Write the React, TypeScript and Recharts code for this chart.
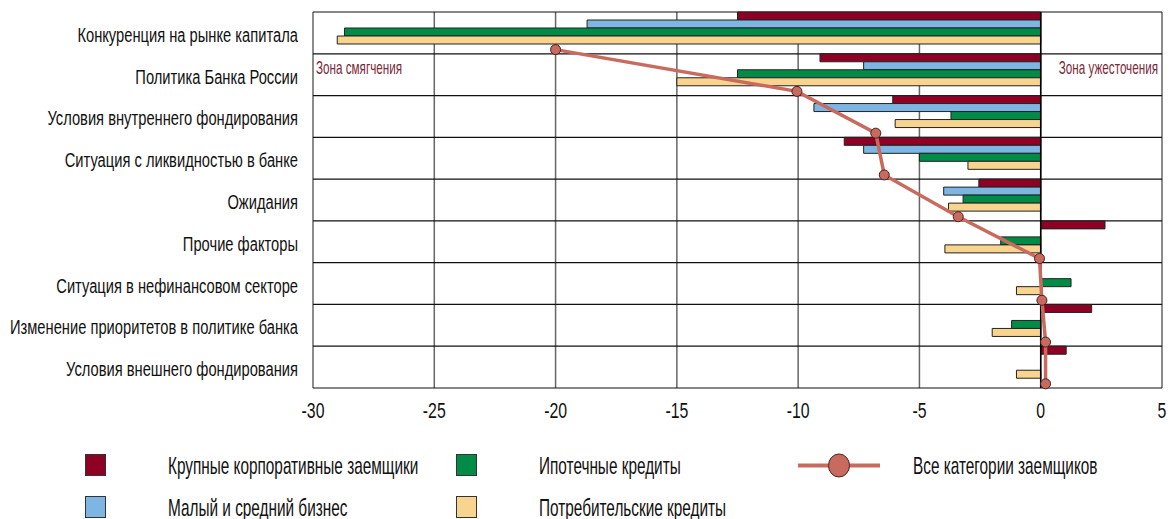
import React from "react"
import {
  ComposedChart,
  Bar,
  Line,
  XAxis,
  YAxis,
  CartesianGrid,
  ReferenceLine,
} from "recharts"

const categories = [
  "Конкуренция на рынке капитала",
  "Политика Банка России",
  "Условия внутреннего фондирования",
  "Ситуация с ликвидностью в банке",
  "Ожидания",
  "Прочие факторы",
  "Ситуация в нефинансовом секторе",
  "Изменение приоритетов в политике банка",
  "Условия внешнего фондирования",
]

const largeCorporate = [-12.5, -9.1, -6.1, -8.1, -2.55, 2.65, 0, 2.1, 1.05]
const smeBusiness = [-18.7, -7.3, -9.35, -7.3, -4.0, 0, 0, 0, 0]
const mortgage = [-28.7, -12.5, -3.7, -5.0, -3.2, -1.65, 1.25, -1.2, 0]
const consumer = [-29.0, -15.0, -6.0, -3.0, -3.8, -3.95, -1.0, -2.0, -1.0]
const allBorrowers = [-20.0, -10.05, -6.8, -6.45, -3.4, -0.05, 0.05, 0.2, 0.2]

const xTicks = [-30, -25, -20, -15, -10, -5, 0, 5]
const bandEdges = [0, 1, 2, 3, 4, 5, 6, 7, 8, 9]

const COLORS = {
  corp: "#8e0024",
  sme: "#7db6e2",
  mortgage: "#008c46",
  consumer: "#f8d48e",
  all: "#c96a5f",
  zone: "#7a2c3c",
}

// no narrow font installed, so text is squeezed horizontally
const FONT = "'Liberation Sans', Arial, sans-serif"

// line markers sit in the empty fifth slot at the bottom of each band
const rows = categories.map((name, i) => ({
  name,
  corp: largeCorporate[i],
  sme: smeBusiness[i],
  mortgage: mortgage[i],
  consumer: consumer[i],
  all: allBorrowers[i],
  pos: i + 0.9,
}))

function CatTick({ x, y, payload }: any) {
  return (
    <text
      transform={`translate(${x},${y}) scale(0.736,1)`}
      dy="0.45em"
      textAnchor="end"
      fontSize={20}
      fontFamily={FONT}
      fill="#111"
    >
      {payload.value}
    </text>
  )
}

function NumTick({ x, y, payload }: any) {
  return (
    <text
      transform={`translate(${x},${y}) scale(0.72,1)`}
      dy="0.72em"
      textAnchor="middle"
      fontSize={22}
      fontFamily={FONT}
      fill="#111"
    >
      {payload.value}
    </text>
  )
}

function ZoneLabel({ viewBox, text, side }: any) {
  const tx = side === "left" ? viewBox.x + 3 : viewBox.x + viewBox.width - 4
  return (
    <text
      transform={`translate(${tx},${viewBox.y - 1}) scale(0.615,1)`}
      textAnchor={side === "left" ? "start" : "end"}
      fontSize={19}
      fontFamily={FONT}
      fill={COLORS.zone}
    >
      {text}
    </text>
  )
}

const legendBars = [
  { label: "Крупные корпоративные заемщики", color: COLORS.corp, x: 85, y: 24 },
  { label: "Малый и средний бизнес", color: COLORS.sme, x: 85, y: 66 },
  { label: "Ипотечные кредиты", color: COLORS.mortgage, x: 456, y: 24 },
  { label: "Потребительские кредиты", color: COLORS.consumer, x: 456, y: 66 },
]

function LegendText({ x, y, children }: any) {
  return (
    <text transform={`translate(${x},${y}) scale(0.64,1)`} fontSize={24} fontFamily={FONT} fill="#111">
      {children}
    </text>
  )
}

function Legend() {
  return (
    <svg style={{ position: "absolute", left: 0, top: 430 }} width={1170} height={89}>
      {legendBars.map((d) => (
        <g key={d.label}>
          <rect x={d.x + 0.5} y={d.y + 0.5} width={20} height={21} fill={d.color} stroke="#333" strokeWidth={1} />
          <LegendText x={d.x + 83} y={d.y + 20}>
            {d.label}
          </LegendText>
        </g>
      ))}
      <line x1={798} y1={35.5} x2={880} y2={35.5} stroke={COLORS.all} strokeWidth={4} />
      <ellipse cx={839} cy={35.5} rx={10.5} ry={11.5} fill={COLORS.all} stroke="#4a2220" strokeWidth={1} />
      <LegendText x={913} y={44}>
        Все категории заемщиков
      </LegendText>
    </svg>
  )
}

export default function App() {
  return (
    <div
      style={{
        position: "absolute",
        left: 0,
        top: 0,
        width: 1170,
        height: 519,
        overflow: "hidden",
        background: "#fff",
        fontFamily: FONT,
      }}
    >
      <ComposedChart
        layout="vertical"
        width={1170}
        height={430}
        data={rows}
        margin={{ top: 12, right: 8, left: 0, bottom: 0 }}
        barCategoryGap={0}
        barGap={0}
      >
        <CartesianGrid yAxisId="pos" horizontal={false} vertical stroke="#666" strokeWidth={1.5} />
        <CartesianGrid yAxisId="pos" horizontal vertical={false} stroke="#111" strokeWidth={1.2} />

        <XAxis
          type="number"
          domain={[-30, 5]}
          ticks={xTicks}
          interval={0}
          axisLine={false}
          tickLine={false}
          tickSize={0}
          tickMargin={14}
          height={42}
          tick={<NumTick />}
        />
        <YAxis
          yAxisId="cat"
          type="category"
          dataKey="name"
          width={313}
          axisLine={false}
          tickLine={false}
          tickSize={0}
          tickMargin={15}
          interval={0}
          tick={<CatTick />}
        />
        <YAxis yAxisId="pos" type="number" dataKey="pos" domain={[0, 9]} ticks={bandEdges} hide />

        <ReferenceLine x={0} yAxisId="pos" stroke="#000" strokeWidth={1.5} />
        <ReferenceLine
          yAxisId="cat"
          y={categories[1]}
          stroke="none"
          label={(p: any) => <ZoneLabel viewBox={p.viewBox} text="Зона смягчения" side="left" />}
        />
        <ReferenceLine
          yAxisId="cat"
          y={categories[1]}
          stroke="none"
          label={(p: any) => <ZoneLabel viewBox={p.viewBox} text="Зона ужесточения" side="right" />}
        />

        <Bar yAxisId="cat" dataKey="corp" fill={COLORS.corp} stroke="#222" strokeWidth={1} isAnimationActive={false} />
        <Bar yAxisId="cat" dataKey="sme" fill={COLORS.sme} stroke="#222" strokeWidth={1} isAnimationActive={false} />
        <Bar yAxisId="cat" dataKey="mortgage" fill={COLORS.mortgage} stroke="#222" strokeWidth={1} isAnimationActive={false} />
        <Bar yAxisId="cat" dataKey="consumer" fill={COLORS.consumer} stroke="#222" strokeWidth={1} isAnimationActive={false} />
        {/* empty slot, keeps the four bars at the top of each band */}
        <Bar yAxisId="cat" dataKey="slot" fill="none" isAnimationActive={false} />

        <Line
          yAxisId="pos"
          dataKey="all"
          stroke={COLORS.all}
          strokeWidth={3.5}
          dot={{ r: 5, fill: COLORS.all, stroke: "#4a2220", strokeWidth: 1 }}
          isAnimationActive={false}
        />
      </ComposedChart>
      <Legend />
    </div>
  )
}
